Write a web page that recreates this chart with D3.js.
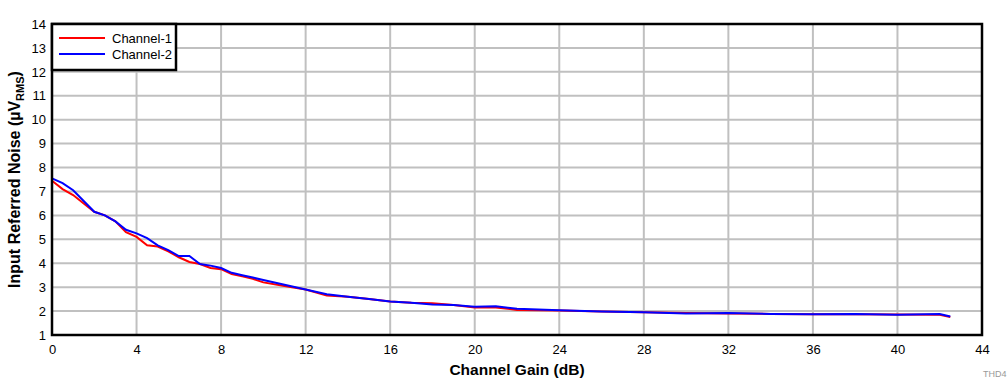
<!DOCTYPE html>
<html><head><meta charset="utf-8">
<script src="https://cdn.jsdelivr.net/npm/d3@7"></script>
<style>body{margin:0;background:#fff;}svg{display:block;font-family:"Liberation Sans",Arial,sans-serif;}</style>
</head><body>
<script>
const gainX = [0,0.5,1,1.5,2,2.5,3,3.5,4,4.5,5,5.5,6,6.5,7,7.5,8,8.5,9,9.5,10,11,12,13,14,15,16,17,18,19,20,21,22,24,26,28,30,32,34,36,38,40,42,42.5];
const channel1 = [7.45,7.1,6.85,6.5,6.15,6.0,5.75,5.3,5.1,4.75,4.7,4.5,4.25,4.05,3.97,3.8,3.75,3.55,3.45,3.35,3.2,3.05,2.9,2.65,2.6,2.5,2.4,2.35,2.33,2.25,2.15,2.15,2.05,2.02,1.98,1.95,1.92,1.9,1.88,1.87,1.87,1.86,1.85,1.75];
const channel2 = [7.55,7.35,7.05,6.6,6.15,6.0,5.75,5.4,5.25,5.05,4.75,4.55,4.3,4.3,3.97,3.9,3.8,3.6,3.5,3.4,3.3,3.1,2.9,2.7,2.6,2.5,2.4,2.35,2.28,2.25,2.18,2.2,2.1,2.03,1.98,1.95,1.9,1.92,1.88,1.87,1.88,1.85,1.88,1.77];
const xTicks = [0,4,8,12,16,20,24,28,32,36,40,44];
const yTicks = [1,2,3,4,5,6,7,8,9,10,11,12,13,14];
const seriesNames = ["Channel-1","Channel-2"];
const seriesColors = ["#ff0000","#0000ff"];

const W=1007,H=387;
const L=52,R=982,T=24,B=335;
const svg=d3.select("body").append("svg").attr("width",W).attr("height",H);
const x=d3.scaleLinear().domain([0,44]).range([L,R]);
const y=d3.scaleLinear().domain([1,14]).range([B,T]);

// grid
svg.append("g").selectAll("line").data(xTicks.slice(1,-1)).join("line")
 .attr("x1",d=>x(d)).attr("x2",d=>x(d)).attr("y1",T).attr("y2",B)
 .attr("stroke","#c0c0c0").attr("stroke-width",2);
svg.append("g").selectAll("line").data(yTicks.slice(1,-1)).join("line")
 .attr("y1",d=>y(d)).attr("y2",d=>y(d)).attr("x1",L).attr("x2",R)
 .attr("stroke","#c0c0c0").attr("stroke-width",2);

// axes labels
const xa=d3.axisBottom(x).tickValues(xTicks).tickSize(0).tickPadding(10).tickFormat(d3.format("d"));
const gx=svg.append("g").attr("transform",`translate(0,${B})`).call(xa);
gx.select(".domain").remove();
gx.selectAll("text").attr("font-size",13).attr("fill","#000").attr("font-family","Liberation Sans, Arial, sans-serif");
const ya=d3.axisLeft(y).tickValues(yTicks).tickSize(0).tickPadding(6).tickFormat(d3.format("d"));
const gy=svg.append("g").attr("transform",`translate(${L},0)`).call(ya);
gy.select(".domain").remove();
gy.selectAll("text").attr("font-size",13).attr("fill","#000").attr("font-family","Liberation Sans, Arial, sans-serif");

// lines
const series=[channel1,channel2];
const line=d3.line().x(d=>x(d[0])).y(d=>y(d[1]));
series.forEach((s,i)=>{
  svg.append("path").datum(gainX.map((g,j)=>[g,s[j]]))
   .attr("d",line).attr("fill","none").attr("stroke",seriesColors[i]).attr("stroke-width",2);
});

// frame
svg.append("rect").attr("x",L).attr("y",T).attr("width",R-L).attr("height",B-T)
 .attr("fill","none").attr("stroke","#000").attr("stroke-width",2.5);

// legend
const lg=svg.append("g");
lg.append("rect").attr("x",L).attr("y",T).attr("width",124).attr("height",46)
 .attr("fill","#fff").attr("stroke","#000").attr("stroke-width",2.5);
seriesNames.forEach((n,i)=>{
  const yy=38+i*16;
  lg.append("line").attr("x1",59).attr("x2",105).attr("y1",yy).attr("y2",yy)
   .attr("stroke",seriesColors[i]).attr("stroke-width",2);
  lg.append("text").attr("x",112).attr("y",yy+4.5).attr("font-size",13).text(n);
});

// titles
svg.append("text").attr("x",(L+R)/2).attr("y",375).attr("text-anchor","middle")
 .attr("font-size",15.5).attr("font-weight","bold").text("Channel Gain (dB)");
const yt=svg.append("text").attr("transform",`translate(20,${(T+B)/2}) rotate(-90)`)
 .attr("text-anchor","middle").attr("font-size",16).attr("font-weight","bold");
yt.append("tspan").text("Input Referred Noise (µV");
yt.append("tspan").attr("font-size",11).attr("dy",4).text("RMS");
yt.append("tspan").attr("dy",-4).text(")");
svg.append("text").attr("x",983).attr("y",377).attr("font-size",9).attr("fill","#999").text("THD4");
</script>
</body></html>
